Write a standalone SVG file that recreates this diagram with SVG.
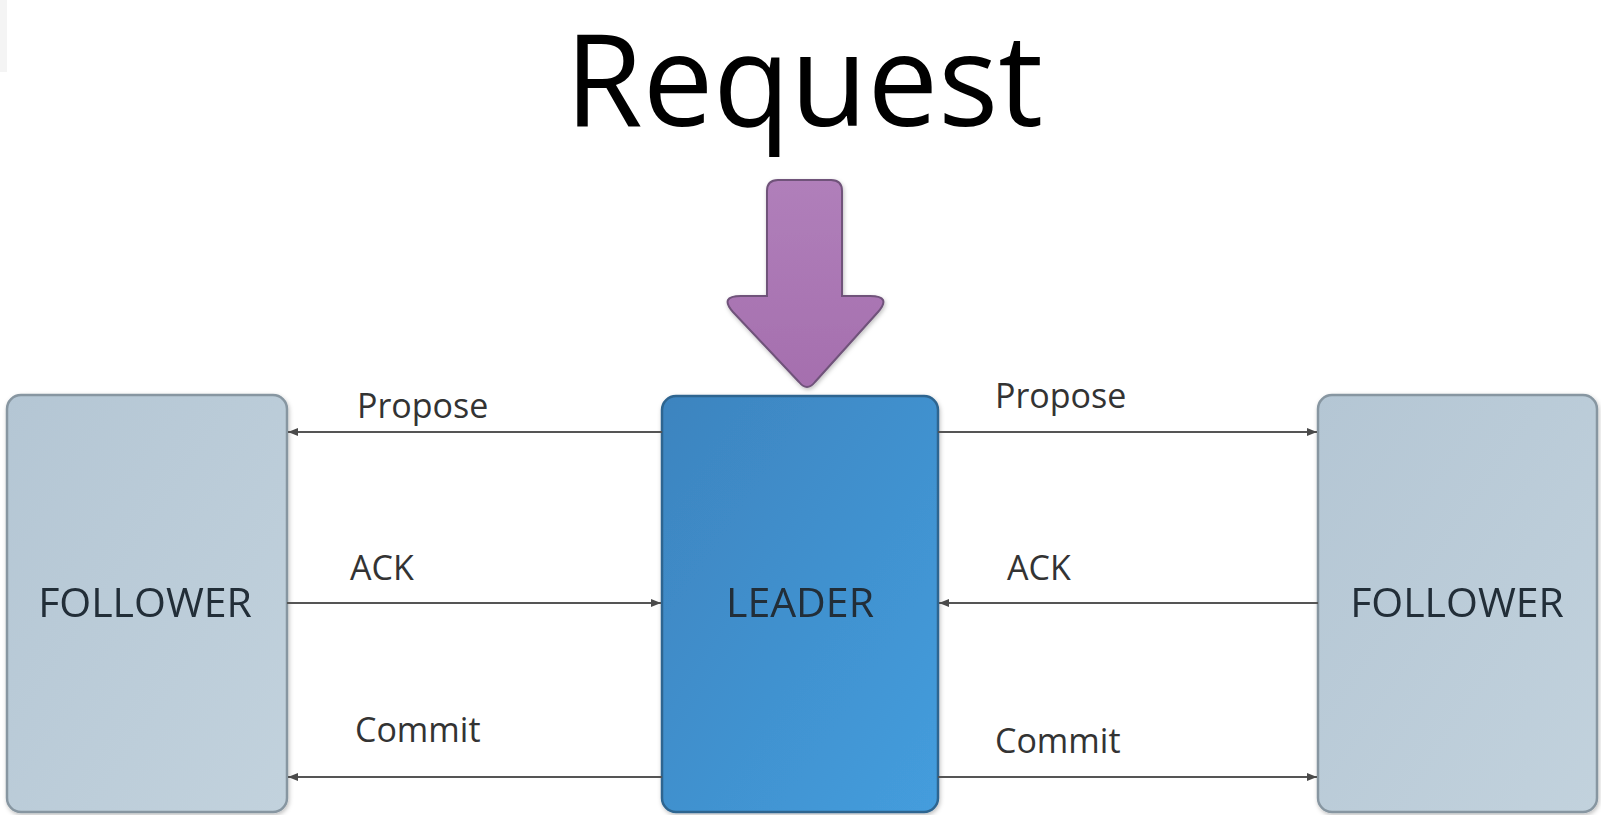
<svg xmlns="http://www.w3.org/2000/svg" width="1601" height="815" viewBox="0 0 1601 815">
  <defs>
    <linearGradient id="gFollower" x1="0" y1="0" x2="1" y2="1">
      <stop offset="0" stop-color="#b4c6d4"/>
      <stop offset="1" stop-color="#c2d2dd"/>
    </linearGradient>
    <linearGradient id="gLeader" x1="0" y1="0" x2="1" y2="1">
      <stop offset="0" stop-color="#3d84bf"/>
      <stop offset="1" stop-color="#449ddd"/>
    </linearGradient>
    <linearGradient id="gArrow" x1="0" y1="0" x2="0" y2="1">
      <stop offset="0" stop-color="#b07fba"/>
      <stop offset="1" stop-color="#a56fae"/>
    </linearGradient>
    <filter id="shadow" x="-10%" y="-10%" width="120%" height="120%">
      <feDropShadow dx="1" dy="2" stdDeviation="2" flood-color="#000" flood-opacity="0.25"/>
    </filter>
    <marker id="arrow" viewBox="0 0 10 10" refX="10" refY="5" markerWidth="10" markerHeight="10" markerUnits="userSpaceOnUse" orient="auto">
      <path d="M0,1 L10,5 L0,9 Z" fill="#4a4a4a"/>
    </marker>
  </defs>
  <style>
    .follower { fill: url(#gFollower); stroke: #8796a1; stroke-width: 2.5; }
    .leader { fill: url(#gLeader); stroke: #2d6590; stroke-width: 2.5; }
    .node-label { font-family: "Open Sans", "Noto Sans", "Liberation Sans", sans-serif; font-size: 41px; fill: #222d38; text-anchor: middle; }
    .edge { stroke: #555; stroke-width: 2; fill: none; marker-end: url(#arrow); }
    .edge-label { font-family: "Open Sans", "Noto Sans", "Liberation Sans", sans-serif; font-size: 34px; fill: #333; }
    .title { font-family: "Open Sans", "Noto Sans", "Liberation Sans", sans-serif; font-size: 128px; fill: #000; }
  </style>

  <rect x="0" y="0" width="1601" height="815" fill="#ffffff"/>
  <rect x="0" y="0" width="7" height="72" fill="#f4f4f4"/>

  <text class="title" x="565" y="126" textLength="478" lengthAdjust="spacingAndGlyphs">Request</text>

  <g id="request-arrow" filter="url(#shadow)">
    <path d="M778,180 L831,180 Q842,180 842,191 L842,296 L870,296 Q892,296 878,312 L815,382 Q807,392 799,382 L733,312 Q719,296 741,296 L767,296 L767,191 Q767,180 778,180 Z" fill="url(#gArrow)" stroke="#6f527a" stroke-width="2"/>
  </g>

  <g id="follower-left" filter="url(#shadow)">
    <rect class="follower" x="7" y="395" width="280" height="417" rx="14"/>
    <text class="node-label" x="145" y="617">FOLLOWER</text>
  </g>

  <g id="leader" filter="url(#shadow)">
    <rect class="leader" x="662" y="396" width="276" height="416" rx="14"/>
    <text class="node-label" x="800" y="617">LEADER</text>
  </g>

  <g id="follower-right" filter="url(#shadow)">
    <rect class="follower" x="1318" y="395" width="279" height="417" rx="14"/>
    <text class="node-label" x="1457" y="617">FOLLOWER</text>
  </g>

  <g id="connectors">
    <line class="edge" x1="662" y1="432" x2="288" y2="432"/>
    <line class="edge" x1="287" y1="603" x2="661" y2="603"/>
    <line class="edge" x1="662" y1="777" x2="288" y2="777"/>
    <line class="edge" x1="938" y1="432" x2="1317" y2="432"/>
    <line class="edge" x1="1318" y1="603" x2="939" y2="603"/>
    <line class="edge" x1="938" y1="777" x2="1317" y2="777"/>
    <text class="edge-label" x="357" y="418">Propose</text>
    <text class="edge-label" x="350" y="580">ACK</text>
    <text class="edge-label" x="355" y="742">Commit</text>
    <text class="edge-label" x="995" y="408">Propose</text>
    <text class="edge-label" x="1007" y="580">ACK</text>
    <text class="edge-label" x="995" y="753">Commit</text>
  </g>
</svg>
